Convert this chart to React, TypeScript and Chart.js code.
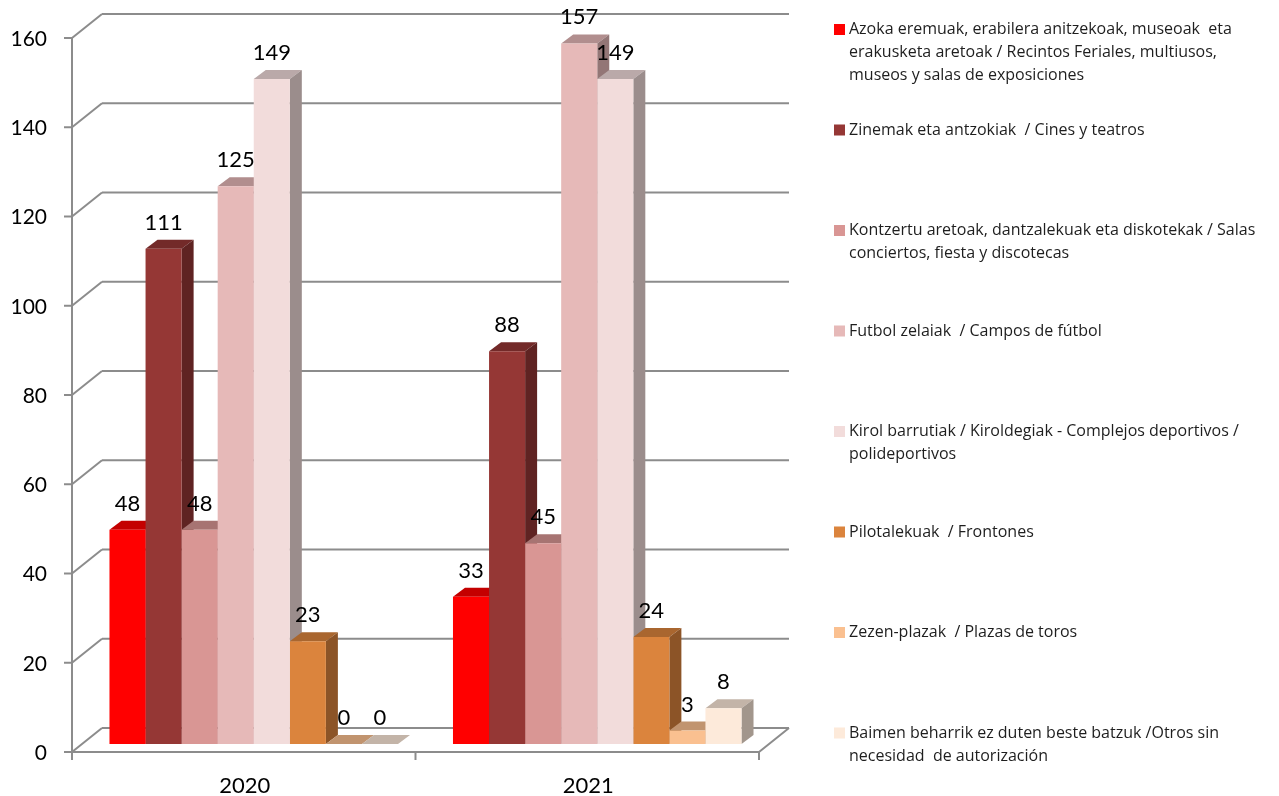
import React, { useEffect, useRef } from "react";
import { Chart, registerables } from "chart.js";
Chart.register(...registerables);

const categories = ["2020", "2021"];
const seriesNames = [
  "Azoka eremuak, erabilera anitzekoak, museoak  eta\nerakusketa aretoak / Recintos Feriales, multiusos,\nmuseos y salas de exposiciones",
  "Zinemak eta antzokiak  / Cines y teatros",
  "Kontzertu aretoak, dantzalekuak eta diskotekak / Salas\nconciertos, fiesta y discotecas",
  "Futbol zelaiak  / Campos de fútbol",
  "Kirol barrutiak / Kiroldegiak - Complejos deportivos /\npolideportivos",
  "Pilotalekuak  / Frontones",
  "Zezen-plazak  / Plazas de toros",
  "Baimen beharrik ez duten beste batzuk /Otros sin\nnecesidad  de autorización",
];
const seriesColors = ["#FF0000", "#953735", "#D99694", "#E6B9B8", "#F2DCDB", "#DB843D", "#FAC090", "#FDEADA"];
const values2020 = [48, 111, 48, 125, 149, 23, 0, 0];
const values2021 = [33, 88, 45, 157, 149, 24, 3, 8];
const yTickValues = [0, 20, 40, 60, 80, 100, 120, 140, 160];

const FONT = 'Lato, "Open Sans", sans-serif';
const LEGEND_FONT = '"Open Sans", Lato, sans-serif';
const GRID = "#8c8c8c";

function shade(hex: string, f: number) {
  const n = parseInt(hex.slice(1), 16);
  const r = Math.round(((n >> 16) & 255) * f);
  const g = Math.round(((n >> 8) & 255) * f);
  const b = Math.round((n & 255) * f);
  return `rgb(${r},${g},${b})`;
}

const FX = -10, FY = 8; // front plane offset
const BX = 20, BY = -16; // back wall offset
const DX = 12, DY = -9; // bar depth

const threeD = {
  id: "threeD",
  beforeDatasetsDraw(chart: any) {
    const ctx = chart.ctx;
    const ys = chart.scales.y;
    const { left, right } = chart.chartArea;
    ctx.save();
    ctx.strokeStyle = GRID;
    ctx.lineWidth = 2;
    ctx.lineCap = "butt";
    const y0 = ys.getPixelForValue(0);
    const yMax = ys.getPixelForValue(yTickValues[yTickValues.length - 1]);
    for (const v of yTickValues) {
      const yp = ys.getPixelForValue(v);
      ctx.beginPath();
      ctx.moveTo(left + BX, yp + BY);
      ctx.lineTo(right + BX, yp + BY);
      ctx.stroke();
      ctx.beginPath();
      ctx.moveTo(left + FX, yp + FY);
      ctx.lineTo(left + BX, yp + BY);
      ctx.stroke();
      ctx.beginPath();
      ctx.moveTo(left + FX - 8, yp + FY);
      ctx.lineTo(left + FX, yp + FY);
      ctx.stroke();
    }
    ctx.beginPath();
    ctx.moveTo(left + FX, y0 + FY);
    ctx.lineTo(left + FX, yMax + FY);
    ctx.stroke();
    ctx.beginPath();
    ctx.moveTo(left + FX, y0 + FY);
    ctx.lineTo(right + FX, y0 + FY);
    ctx.lineTo(right + BX, y0 + BY);
    ctx.stroke();
    const n = categories.length;
    for (let k = 0; k <= n; k++) {
      const xp = left + FX + ((right - left) * k) / n;
      ctx.beginPath();
      ctx.moveTo(xp, y0 + FY);
      ctx.lineTo(xp, y0 + FY + 8);
      ctx.stroke();
    }
    for (let j = 0; j < n; j++) {
      chart.data.datasets.forEach((ds: any, i: number) => {
        const el = chart.getDatasetMeta(i).data[j];
        const { x, y, base, width } = el.getProps(["x", "y", "base", "width"], true);
        const L = x - width / 2;
        const R = x + width / 2;
        const col = seriesColors[i];
        ctx.fillStyle = shade(col, 0.77);
        ctx.beginPath();
        ctx.moveTo(L, y);
        ctx.lineTo(R, y);
        ctx.lineTo(R + DX, y + DY);
        ctx.lineTo(L + DX, y + DY);
        ctx.closePath();
        ctx.fill();
        if (base - y > 0.5) {
          ctx.fillStyle = shade(col, 0.64);
          ctx.beginPath();
          ctx.moveTo(R, y);
          ctx.lineTo(R + DX, y + DY);
          ctx.lineTo(R + DX, base + DY);
          ctx.lineTo(R, base);
          ctx.closePath();
          ctx.fill();
        }
      });
    }
    ctx.restore();
  },
  afterDatasetsDraw(chart: any) {
    const ctx = chart.ctx;
    ctx.save();
    ctx.font = `22px ${FONT}`;
    ctx.fillStyle = "#000";
    ctx.textAlign = "center";
    ctx.textBaseline = "alphabetic";
    chart.data.datasets.forEach((ds: any, i: number) => {
      chart.getDatasetMeta(i).data.forEach((el: any, j: number) => {
        const { x, y } = el.getProps(["x", "y"], true);
        ctx.fillText(String(ds.data[j]), x, y - 19);
      });
    });
    ctx.restore();
  },
  afterDraw(chart: any) {
    const ctx = chart.ctx;
    ctx.save();
    ctx.font = `16px ${LEGEND_FONT}`;
    ctx.textBaseline = "middle";
    ctx.textAlign = "left";
    seriesNames.forEach((name, i) => {
      const cy = 29.5 + 100.5 * i;
      ctx.fillStyle = seriesColors[i];
      ctx.fillRect(834, cy - 5.5, 11, 11);
      ctx.fillStyle = "#1e1e1e";
      name.split("\n").forEach((line, k) => {
        ctx.fillText(line, 849, cy + 23 * k);
      });
    });
    ctx.restore();
  },
};

export default function App() {
  const ref = useRef<HTMLCanvasElement>(null);
  useEffect(() => {
    if (!ref.current) return;
    const chart: any = new Chart(ref.current, {
      type: "bar",
      data: {
        labels: categories,
        datasets: seriesNames.map((name, i) => ({
          label: name,
          data: [values2020[i], values2021[i]],
          backgroundColor: seriesColors[i],
          borderWidth: 0,
          categoryPercentage: 0.84,
          barPercentage: 1.0,
        })),
      },
      options: {
        responsive: false,
        maintainAspectRatio: false,
        animation: false,
        layout: { padding: { top: 30, right: 510, left: 0, bottom: 0 } },
        plugins: { legend: { display: false }, tooltip: { enabled: false } },
        scales: {
          x: {
            grid: { display: false, drawTicks: false },
            border: { display: false },
            ticks: { font: { family: FONT, size: 22 }, color: "#000", padding: 29, labelOffset: -9 },
            afterFit(s: any) {
              s.height = 52;
              s.paddingLeft = 0;
              s.paddingRight = 0;
            },
          },
          y: {
            min: 0,
            max: 160,
            grid: { display: false, drawTicks: false },
            border: { display: false },
            ticks: { stepSize: 20, font: { family: FONT, size: 21 }, color: "#000", padding: 35, labelOffset: 9 },
            afterFit(s: any) {
              s.width = 82;
              s.paddingTop = 0;
              s.paddingBottom = 0;
            },
          },
        },
      },
      plugins: [threeD],
    });
    return () => chart.destroy();
  }, []);
  return (
    <div style={{ position: "fixed", left: 0, top: 0, width: 1279, height: 796, background: "#fff" }}>
      <canvas ref={ref} width={1279} height={796} style={{ display: "block" }} />
    </div>
  );
}
